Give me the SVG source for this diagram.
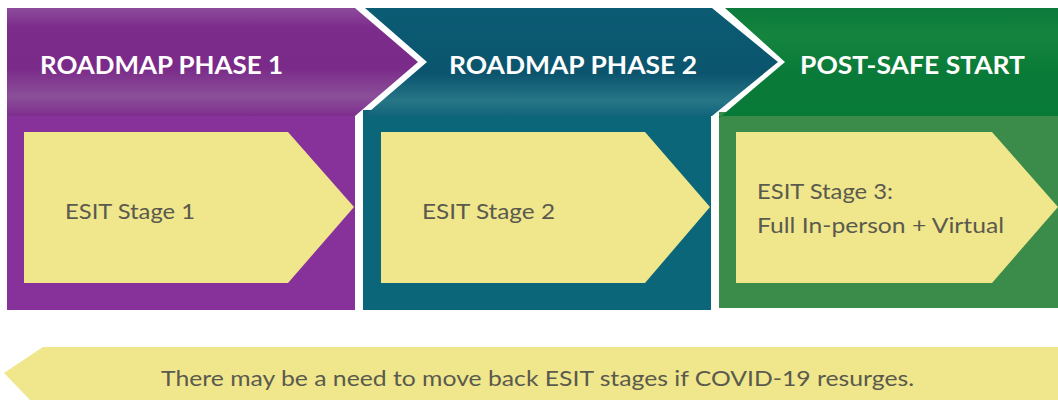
<svg xmlns="http://www.w3.org/2000/svg" width="1058" height="400" viewBox="0 0 1058 400">
<defs>
<linearGradient id="gP" x1="0" y1="0" x2="0" y2="1">
<stop offset="0" stop-color="#8d4c9c"/>
<stop offset="0.18" stop-color="#7c2c8b"/>
<stop offset="0.55" stop-color="#7a2a88"/>
<stop offset="0.82" stop-color="#8b4f99"/>
<stop offset="1" stop-color="#7e2e8d"/>
</linearGradient>
<linearGradient id="gT" x1="0" y1="0" x2="0" y2="1">
<stop offset="0" stop-color="#0b5c74"/>
<stop offset="0.6" stop-color="#0b546e"/>
<stop offset="0.85" stop-color="#267686"/>
<stop offset="1" stop-color="#11637a"/>
</linearGradient>
<linearGradient id="gG" x1="0" y1="0" x2="0" y2="1">
<stop offset="0" stop-color="#0b7a3b"/>
<stop offset="0.25" stop-color="#14843f"/>
<stop offset="0.6" stop-color="#0a7a38"/>
<stop offset="1" stop-color="#087a38"/>
</linearGradient>
<style>
.hd{font-family:Lato,"Open Sans","Liberation Sans",sans-serif;font-weight:bold;font-size:24px;fill:#ffffff;}
.st{font-family:Lato,"Open Sans","Liberation Sans",sans-serif;font-size:21px;fill:#5a5a4e;}
.yb{fill:#f0e68b;}
</style>
</defs>
<rect width="1058" height="400" fill="#ffffff"/>
<g id="phase1">
<rect x="7" y="110" width="348" height="200" fill="#86329a"/>
<polygon points="7,8 355,8 418,62 355,116 7,116" fill="url(#gP)"/>
<text class="hd" x="40" y="74" textLength="243" lengthAdjust="spacingAndGlyphs">ROADMAP PHASE 1</text>
</g>
<g id="phase2">
<rect x="363" y="110" width="348" height="200" fill="#0c6679"/>
<polygon points="365,8 712,8 778,62 712,116 363,116 363,117 427,62" fill="url(#gT)"/>
<text class="hd" x="449" y="74" textLength="248" lengthAdjust="spacingAndGlyphs">ROADMAP PHASE 2</text>
</g>
<g id="postsafe">
<rect x="719" y="112" width="339" height="196" fill="#3b8b4a"/>
<polygon points="725,8 1058,8 1058,116 719,116 719,118 785,62" fill="url(#gG)"/>
<text class="hd" x="800" y="74" textLength="225" lengthAdjust="spacingAndGlyphs">POST-SAFE START</text>
</g>
<g id="stage1">
<polygon class="yb" points="24,132 288,132 354,207 288,283 24,283"/>
<text class="st" x="65" y="219" textLength="130" lengthAdjust="spacingAndGlyphs">ESIT Stage 1</text>
</g>
<g id="stage2">
<polygon class="yb" points="381,132 645,132 710,207 645,283 381,283"/>
<text class="st" x="422" y="219" textLength="133" lengthAdjust="spacingAndGlyphs">ESIT Stage 2</text>
</g>
<g id="stage3">
<polygon class="yb" points="736,132 992,132 1058,207 992,283 736,283"/>
<text class="st" x="757" y="199" textLength="136" lengthAdjust="spacingAndGlyphs">ESIT Stage 3:</text>
<text class="st" x="757" y="233" textLength="247" lengthAdjust="spacingAndGlyphs">Full In-person + Virtual</text>
</g>
<g id="note">
<polygon class="yb" points="43,347 1058,347 1058,400 30,400 4,373"/>
<text class="st" x="161" y="386" font-size="20" textLength="753" lengthAdjust="spacingAndGlyphs">There may be a need to move back ESIT stages if COVID-19 resurges.</text>
</g>
<g id="connectors"></g>
</svg>
